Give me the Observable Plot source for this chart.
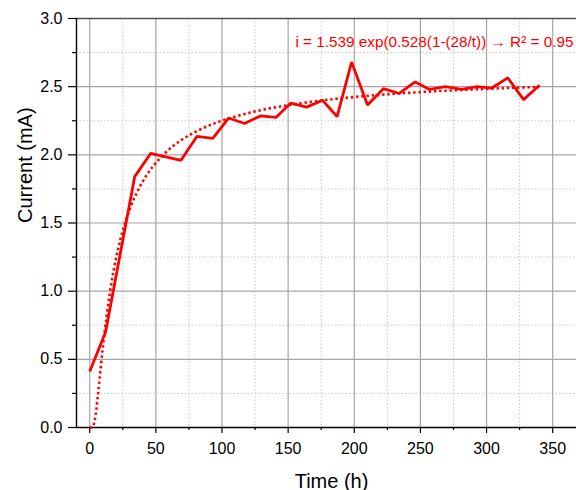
<!DOCTYPE html>
<html><head><meta charset="utf-8">
<script src="https://cdn.jsdelivr.net/npm/d3@7"></script>
<script src="https://cdn.jsdelivr.net/npm/@observablehq/plot@0.6"></script>
<style>html,body{margin:0;padding:0;background:#fff} svg{display:block}</style>
</head><body><div id="chart"></div>
<script>
// Measured current over time
const times = [0, 12, 34, 46, 69, 81, 93, 105, 117, 129, 141, 152, 164, 176, 187, 198, 210, 222, 234, 246, 257, 269, 281, 293, 304, 316, 328, 340];
const currents = [0.41, 0.70, 1.84, 2.01, 1.96, 2.135, 2.12, 2.27, 2.23, 2.285, 2.275, 2.38, 2.35, 2.40, 2.28, 2.68, 2.365, 2.485, 2.45, 2.535, 2.48, 2.50, 2.48, 2.50, 2.49, 2.565, 2.405, 2.51];
// Fitted trend curve (dotted)
const fitTimes = [0, 2, 4, 6, 8, 10, 12, 15, 18, 21, 25, 30, 35, 40, 45, 50, 60, 70, 80, 90, 100, 120, 140, 160, 180, 200, 225, 250, 275, 300, 320, 340];
const fitCurrents = [0, 0.002, 0.065, 0.222, 0.411, 0.595, 0.761, 0.974, 1.148, 1.291, 1.445, 1.594, 1.710, 1.803, 1.879, 1.941, 2.040, 2.113, 2.169, 2.214, 2.251, 2.307, 2.348, 2.379, 2.404, 2.424, 2.444, 2.460, 2.473, 2.484, 2.492, 2.498];
// Ticks
const xMajorTicks = [0, 50, 100, 150, 200, 250, 300, 350];
const xMinorTicks = [25, 75, 125, 175, 225, 275, 325];
const yMajorTicks = [0, 0.5, 1.0, 1.5, 2.0, 2.5, 3.0];
const yMinorTicks = [0.25, 0.75, 1.25, 1.75, 2.25, 2.75];
// Texts
const fitLabel = "i = 1.539 exp(0.528(1-(28/t)) \u2192 R\u00B2 = 0.95";
const xTitle = "Time (h)";
const yTitle = "Current (mA)";

const data = times.map((t, k) => ({t, i: currents[k]}));
const fit = fitTimes.map((t, k) => ({t, i: fitCurrents[k]}));
const annotation = [{t: 155.5, i: 2.79, label: fitLabel}];

const font = "'Liberation Sans', Arial, sans-serif";
const red = "#ff0000";

const chart = Plot.plot({
  width: 576, height: 490,
  marginLeft: 76, marginRight: 0, marginTop: 18, marginBottom: 63,
  style: {fontFamily: font, fontSize: "16px", background: "#fff", color: "#000"},
  x: {domain: [-10, 368]},
  y: {domain: [0, 3]},
  marks: [
    Plot.gridX(xMinorTicks, {stroke: "#c8c8c8", strokeOpacity: 1, strokeDasharray: "1.5,2"}),
    Plot.gridY(yMinorTicks, {stroke: "#c8c8c8", strokeOpacity: 1, strokeDasharray: "1.5,2"}),
    Plot.gridX(xMajorTicks, {stroke: "#a6a6a6", strokeOpacity: 1, strokeWidth: 1.2}),
    Plot.gridY(yMajorTicks, {stroke: "#a6a6a6", strokeOpacity: 1, strokeWidth: 1.2}),
    Plot.ruleY([3], {stroke: "#505050", strokeWidth: 1.3}),
    Plot.axisX(xMinorTicks, {tickSize: 3, tickFormat: () => "", label: null, strokeWidth: 1.2}),
    Plot.axisX(xMajorTicks, {tickSize: 6, tickPadding: 9, label: null, strokeWidth: 1.2, fontSize: 16}),
    Plot.axisY(yMinorTicks, {tickSize: 4, tickFormat: () => "", label: null, strokeWidth: 1.2}),
    Plot.axisY(yMajorTicks, {tickSize: 8, tickPadding: 6, tickFormat: d3.format(".1f"), label: null, strokeWidth: 1.2, fontSize: 16}),
    Plot.ruleX([-10], {stroke: "#000", strokeWidth: 1.4}),
    Plot.ruleY([0], {stroke: "#000", strokeWidth: 1.4}),
    Plot.line(fit, {x: "t", y: "i", stroke: red, strokeWidth: 2.6, strokeDasharray: "2.4,2.8", strokeLinecap: "butt", curve: "catmull-rom"}),
    Plot.line(data, {x: "t", y: "i", stroke: red, strokeWidth: 2.8, strokeLinejoin: "miter", strokeLinecap: "butt"}),
    Plot.text(annotation, {x: "t", y: "i", text: "label", textAnchor: "start", lineAnchor: "bottom", fill: red, fontSize: 15.3}),
    Plot.text([xTitle], {frameAnchor: "bottom", dx: 5, dy: 60, lineAnchor: "bottom", fontSize: 20, fill: "#000"}),
    Plot.text([yTitle], {frameAnchor: "left", dx: -45, rotate: -90, lineAnchor: "bottom", fontSize: 20, fill: "#000"})
  ]
});
document.getElementById("chart").appendChild(chart);
</script>
</body></html>
